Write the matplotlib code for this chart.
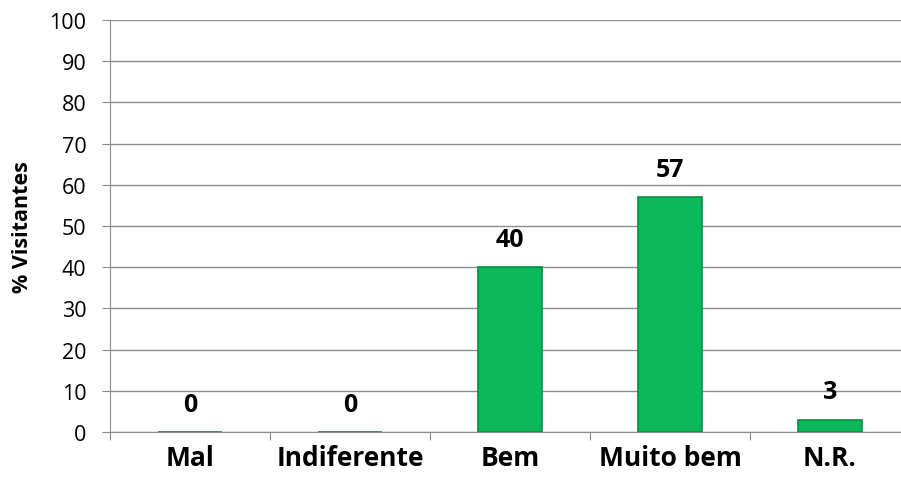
import matplotlib
matplotlib.use("Agg")
import matplotlib.pyplot as plt
import numpy as np

categories = ["Mal", "Indiferente", "Bem", "Muito bem", "N.R."]
values = [0, 0, 40, 57, 3]
yticks = [0, 10, 20, 30, 40, 50, 60, 70, 80, 90, 100]

plt.rcParams['font.family'] = ['Open Sans', 'DejaVu Sans']

fig = plt.figure(figsize=(9.01, 4.89), dpi=100)
ax = fig.add_axes([110/901, 56/489, 800/901, 412/489])

x = np.arange(len(categories))
ax.bar(x, values, width=0.4, color="#0cb85a", edgecolor="#098f45", linewidth=1.2, zorder=3)

for xi, v in zip(x, values):
    ax.annotate(f"{v}", (xi, v), xytext=(0, 11), textcoords="offset points",
                ha="center", va="bottom", fontsize=18, fontweight="bold")

ax.set_xlim(-0.5, len(categories) - 0.5)
ax.set_ylim(0, 100)
ax.set_yticks(yticks)
ax.set_yticklabels([str(t) for t in yticks], fontsize=15.5)
ax.yaxis.grid(True, color="#8c8c8c", linewidth=1.0, zorder=0)
ax.set_axisbelow(True)

ax.set_xticks(np.arange(-0.5, len(categories), 1.0), minor=False)
ax.set_xticklabels([])
ax.set_xticks(x, minor=True)
ax.set_xticklabels(categories, minor=True, fontsize=19, fontweight="bold")
ax.tick_params(axis="x", which="minor", length=0, pad=9)
ax.tick_params(axis="x", which="major", length=6, color="#8c8c8c", direction="out")
ax.tick_params(axis="y", length=6, color="#8c8c8c", pad=11)

for s in ["top", "right"]:
    ax.spines[s].set_visible(False)
ax.spines["left"].set_color("#8c8c8c")
ax.spines["bottom"].set_color("#8c8c8c")

ax.set_ylabel("% Visitantes", fontsize=15.5, fontweight="bold", labelpad=12)

fig.savefig("out.png", dpi=100)
